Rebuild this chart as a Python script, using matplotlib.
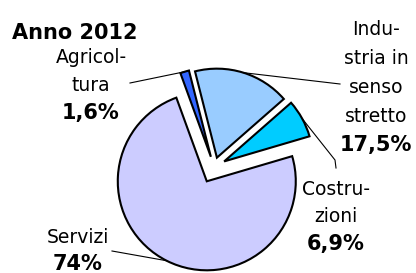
import matplotlib.pyplot as plt
import numpy as np

# data
sectors = ["Agricol-\ntura", "Indu-\nstria in\nsenso\nstretto", "Costru-\nzioni", "Servizi"]
shares = [1.6, 17.5, 6.9, 74.0]
share_labels = ["1,6%", "17,5%", "6,9%", "74%"]
colors = ["#3366ff", "#99ccff", "#00ccff", "#ccccff"]
explode = [0.12, 0.11, 0.13, 0.18]

W, H = 416, 273
R = 89

# label layout in pixels: x centre, first baseline, line step
label_pos = [(91, 63, 28), (376, 35, 29), (336, 195, 27.5), (78, 243, 27)]
# leader line ends (pixels), extra bend point for Costruzioni
leader_ends = [[(130, 83)], [(340, 84)], [(335, 160), (336, 168)], [(112, 251)]]

plt.rcParams['font.family'] = 'DejaVu Sans'

fig = plt.figure(figsize=(W / 100, H / 100), dpi=100)
ax = fig.add_axes([0, 0, 1, 1])

# pie explode is in data units, so scale by the radius
wedges, _ = ax.pie(shares, colors=colors, explode=[e * R for e in explode], startangle=110,
                   counterclock=False, radius=R, center=(214, H - 167),
                   wedgeprops=dict(edgecolor="black", linewidth=1.5))
ax.set_xlim(0, W)
ax.set_ylim(0, H)
ax.set_aspect("equal")
ax.axis("off")

for w, name, pct, (x, y0, step), ends in zip(wedges, sectors, share_labels, label_pos, leader_ends):
    lines = name.split("\n")
    for i, line in enumerate(lines):
        ax.text(x, H - (y0 + i * step), line, ha="center", va="baseline", fontsize=13.5)
    ax.text(x, H - (y0 + len(lines) * step), pct, ha="center", va="baseline",
            fontsize=15, fontweight="bold")
    # leader line from the middle of the wedge arc
    mid = np.deg2rad((w.theta1 + w.theta2) / 2)
    cx, cy = w.center
    xs = [cx + w.r * np.cos(mid)] + [p[0] for p in ends]
    ys = [cy + w.r * np.sin(mid)] + [H - p[1] for p in ends]
    ax.plot(xs, ys, color="black", linewidth=0.8)

ax.text(12, H - 39, "Anno 2012", ha="left", va="baseline", fontsize=15, fontweight="bold")

fig.savefig("out.png", dpi=100)
